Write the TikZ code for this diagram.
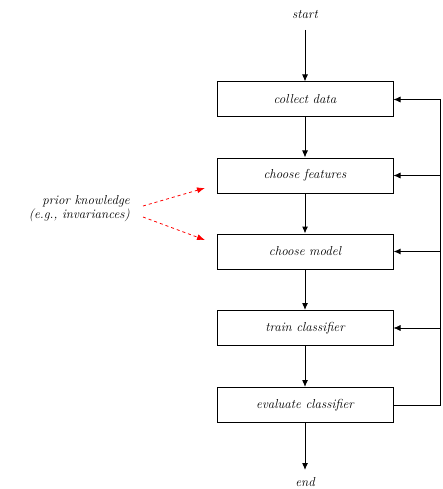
\documentclass[tikz,border=0pt]{standalone}
\usetikzlibrary{arrows.meta}
\begin{document}
\begin{tikzpicture}[x=1pt,y=-1pt,
  stepbox/.style={draw, line width=1pt, minimum width=176pt, minimum height=35pt, inner sep=0pt, font=\fontsize{13}{14}\selectfont\itshape},
  lbl/.style={font=\fontsize{13}{12}\selectfont\itshape, inner sep=1pt},
  flow/.style={-{Latex[length=7pt,width=6pt]}, line width=1pt},
  fb/.style={-{Latex[length=7pt,width=6pt]}, line width=0.7pt},
  prior/.style={-{Latex[length=8pt,width=6pt]}, red, dashed, line width=0.8pt}]
\useasboundingbox (0,0) rectangle (443,489);
\node[lbl] (start) at (305,15) {start};
\node[stepbox] (c1) at (305,99.5) {collect data};
\node[stepbox] (c2) at (305,175.5) {choose features};
\node[stepbox] (c3) at (305,251.5) {choose model};
\node[stepbox] (c4) at (305,328) {train classifier};
\node[stepbox] (c5) at (305,405) {evaluate classifier};
\node[lbl] (end) at (305,482) {end};
\coordinate (s0) at (305,30);
\coordinate (e0) at (305,470);
\draw[flow] (s0) -- (c1);
\draw[flow] (c1) -- (c2);
\draw[flow] (c2) -- (c3);
\draw[flow] (c3) -- (c4);
\draw[flow] (c4) -- (c5);
\draw[flow] (c5) -- (e0);
\coordinate (r5) at (440,405);
\coordinate (r1) at (440,99.5);
\coordinate (r2) at (440,175.5);
\coordinate (r3) at (440,251.5);
\coordinate (r4) at (440,328);
\draw[line width=0.7pt] (c5.east) -- (r5) -- (r1);
\draw[fb] (r1) -- (c1.east);
\draw[fb] (r2) -- (c2.east);
\draw[fb,line width=1.2pt] (r3) -- (c3.east);
\draw[fb] (r4) -- (c4.east);
\node[lbl, align=right, anchor=east] (pk) at (131,208.5) {prior knowledge\\(e.g., invariances)};
\coordinate (pa) at (143,206);
\coordinate (pb) at (143,217);
\coordinate (ta) at (205,188);
\coordinate (tb) at (205,240);
\draw[prior] (pa) -- (ta);
\draw[prior] (pb) -- (tb);
\end{tikzpicture}
\end{document}
